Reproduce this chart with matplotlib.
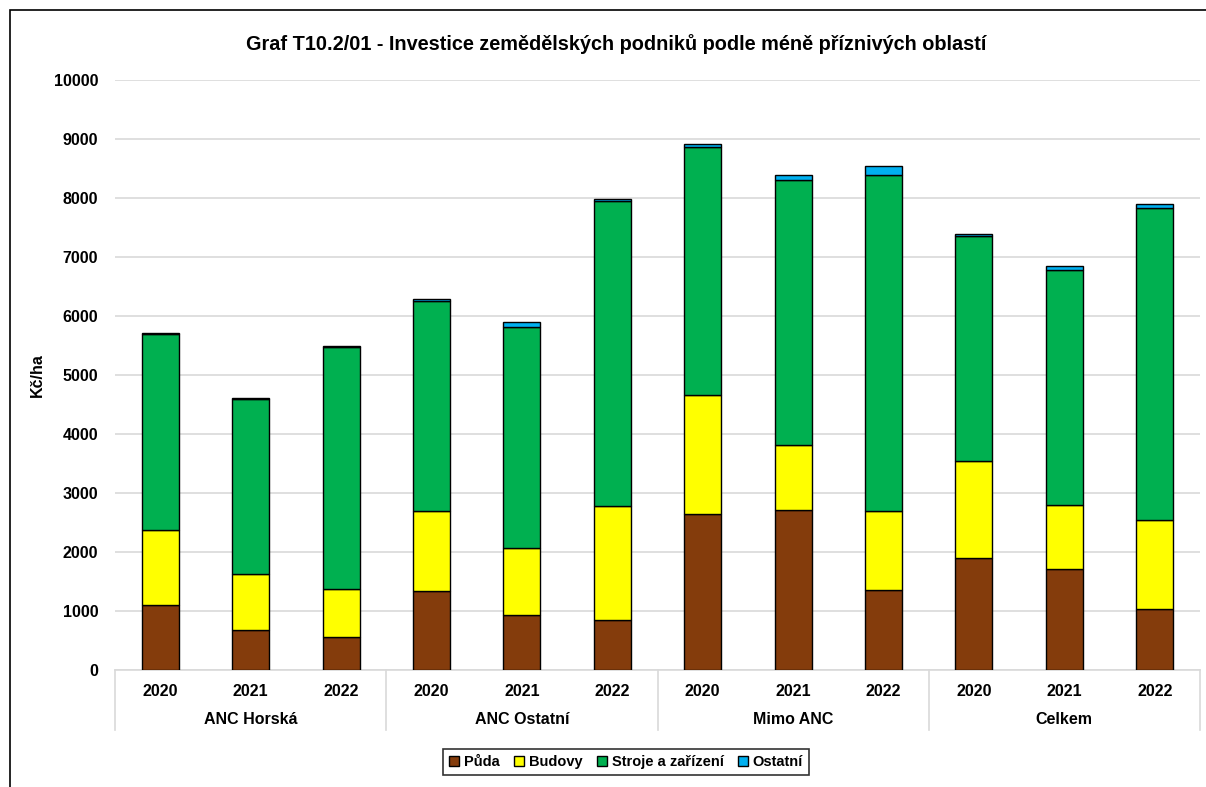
import matplotlib
matplotlib.use("Agg")
import matplotlib.pyplot as plt
import matplotlib.transforms as mtransforms
from matplotlib.patches import Rectangle
import numpy as np

plt.rcParams['font.family'] = ['Liberation Sans', 'DejaVu Sans']
plt.rcParams['font.weight'] = 'bold'

title = "Graf T10.2/01 - Investice zemědělských podniků podle méně příznivých oblastí"
groups = ["ANC Horská", "ANC Ostatní", "Mimo ANC", "Celkem"]
years = ["2020", "2021", "2022"]
series_names = ["Půda", "Budovy", "Stroje a zařízení", "Ostatní"]
colors = ["#843C0C", "#FFFF00", "#00B050", "#00B0F0"]

puda    = [1100,  680,  560, 1340,  930,  850, 2640, 2710, 1360, 1900, 1710, 1035]
budovy  = [1270,  950,  815, 1355, 1135, 1930, 2020, 1100, 1340, 1645, 1085, 1510]
stroje  = [3320, 2965, 4100, 3560, 3750, 5170, 4200, 4490, 5690, 3815, 3985, 5290]
ostatni = [  20,   15,   20,   25,   85,   30,   55,   95,  145,   35,   65,   65]

data = [puda, budovy, stroje, ostatni]

W, H = 1206, 787
fig = plt.figure(figsize=(W / 100, H / 100), dpi=100)
ax = fig.add_axes([115 / W, (H - 670) / H, (1200 - 115) / W, (670 - 80) / H])

n = len(puda)
x = np.arange(n)
bottom = np.zeros(n)
handles = []
for vals, name, c in zip(data, series_names, colors):
    b = ax.bar(x, vals, width=0.41, bottom=bottom, color=c, edgecolor="black",
               linewidth=1.0, label=name, zorder=3)
    handles.append(b)
    bottom += np.array(vals)

ax.set_xlim(-0.5, n - 0.5)
ax.set_ylim(0, 10000)
ax.set_yticks(np.arange(0, 10001, 1000))
ax.set_yticklabels([str(v) for v in range(0, 10001, 1000)], fontsize=11.5, fontweight='bold')
ax.yaxis.grid(True, color="#d9d9d9", linewidth=1.2, zorder=0)
ax.tick_params(axis='y', length=0, pad=12)
ax.tick_params(axis='x', length=0, pad=10)
for s in ["top", "right", "left"]:
    ax.spines[s].set_visible(False)
ax.spines["bottom"].set_color("#d9d9d9")
ax.spines["bottom"].set_linewidth(1.2)

ax.set_xticks(x)
ax.set_xticklabels(years * len(groups), fontsize=11.5, fontweight='bold')

trans = mtransforms.blended_transform_factory(ax.transData, ax.transAxes)
axh = (670 - 80)
for i in range(len(groups) + 1):
    xs = i * 3 - 0.5
    ax.plot([xs, xs], [0, -60 / axh], transform=trans, color="#d9d9d9",
            linewidth=1.2, clip_on=False)
for i, g in enumerate(groups):
    ax.text(i * 3 + 1, -50 / axh, g, transform=trans, ha='center', va='center',
            fontsize=11.5, fontweight='bold')

ax.set_ylabel("Kč/ha", fontsize=11.5, fontweight='bold')
ax.yaxis.set_label_coords((45 - 115) / (1200 - 115), 0.5)

fig.text(616 / W, 1 - 44 / H, title, ha='center', va='center',
         fontsize=14.3, fontweight='bold')

leg = fig.legend(handles=handles, labels=series_names, loc='center',
                 bbox_to_anchor=(626 / W, 1 - 762 / H), ncol=4, frameon=True,
                 fancybox=False, edgecolor='black', fontsize=10.5,
                 handlelength=0.7, handleheight=0.7, handletextpad=0.3,
                 columnspacing=1.0, borderpad=0.4)
leg.get_frame().set_linewidth(1.2)
for t in leg.get_texts():
    t.set_fontweight('bold')

fig.patches.append(Rectangle((10 / W, -0.01), 1.0, 1 - 10 / H + 0.01,
                             transform=fig.transFigure, fill=False,
                             edgecolor='black', linewidth=1.2))

fig.savefig("out.png", dpi=100)
